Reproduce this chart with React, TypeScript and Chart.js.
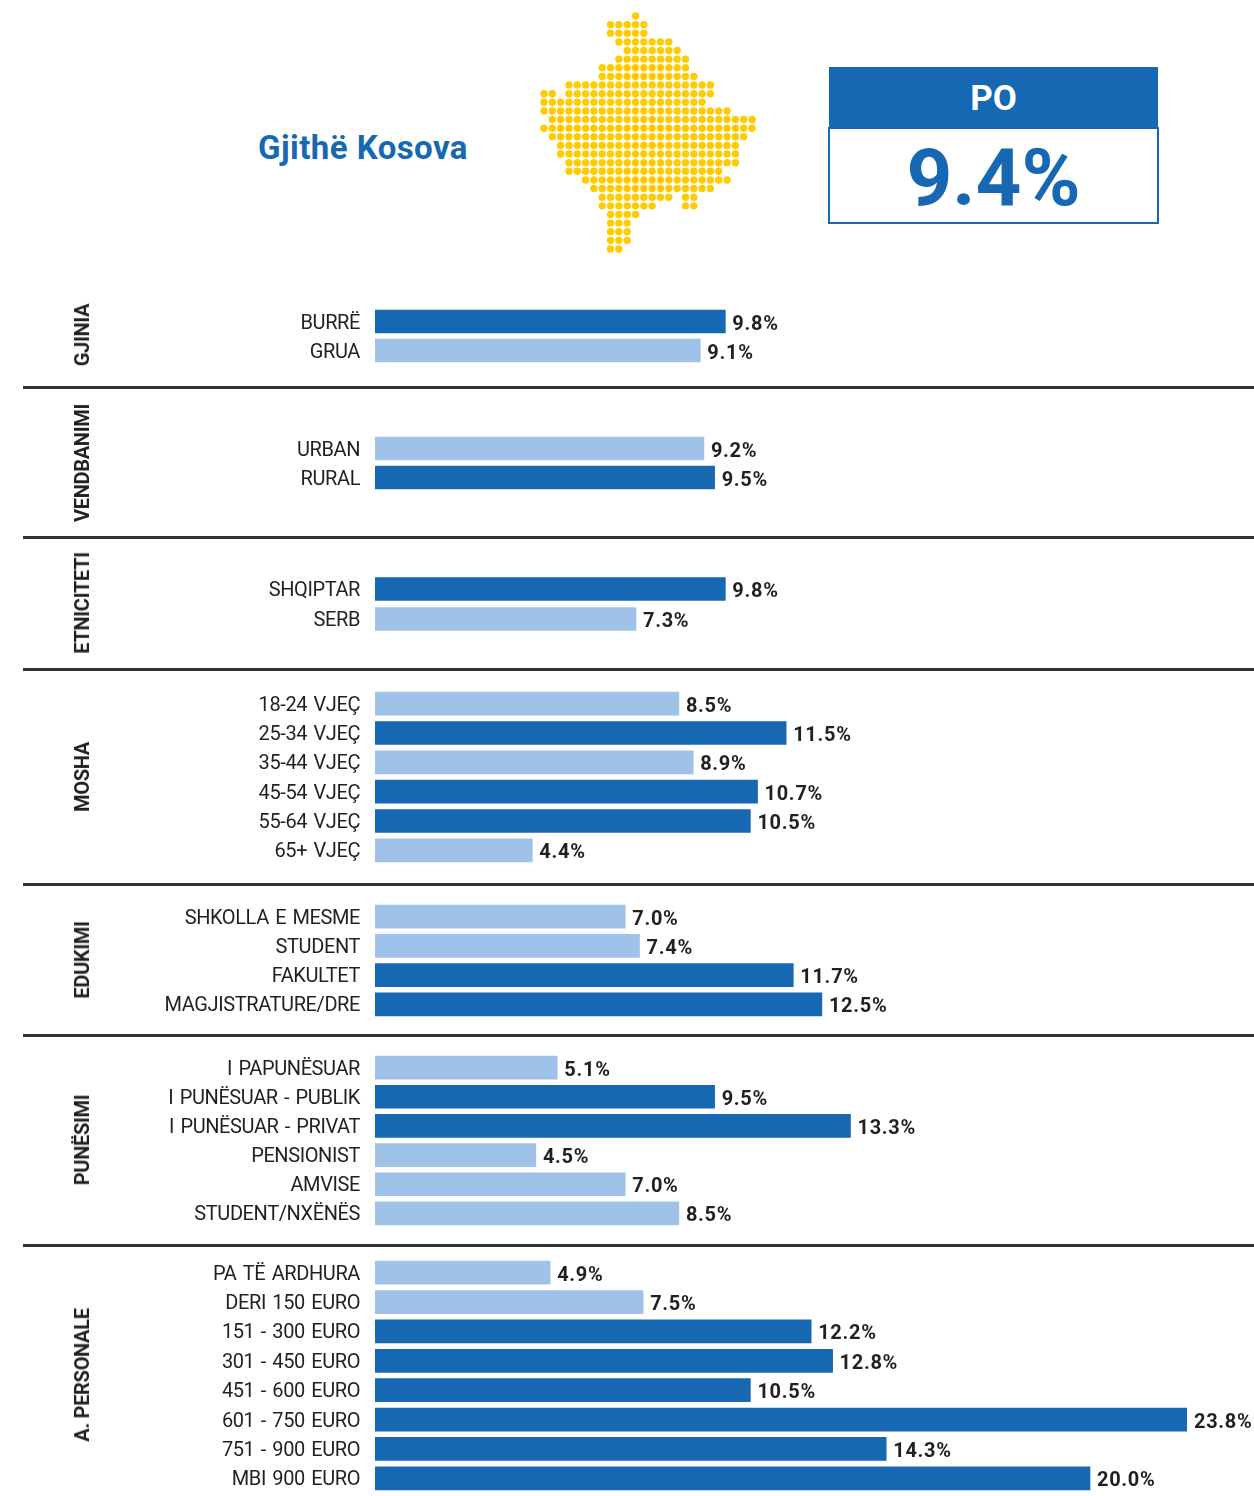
import React, { useEffect, useRef } from "react";
import { Chart, registerables } from "chart.js";

Chart.register(...registerables);

const OVERALL = 9.4;

const genderLabels = ["BURRË", "GRUA"];
const genderValues = [9.8, 9.1];
const settlementLabels = ["URBAN", "RURAL"];
const settlementValues = [9.2, 9.5];
const ethnicityLabels = ["SHQIPTAR", "SERB"];
const ethnicityValues = [9.8, 7.3];
const ageLabels = ["18-24 VJEÇ", "25-34 VJEÇ", "35-44 VJEÇ", "45-54 VJEÇ", "55-64 VJEÇ", "65+ VJEÇ"];
const ageValues = [8.5, 11.5, 8.9, 10.7, 10.5, 4.4];
const educationLabels = ["SHKOLLA E MESME", "STUDENT", "FAKULTET", "MAGJISTRATURE/DRE"];
const educationValues = [7.0, 7.4, 11.7, 12.5];
const employmentLabels = ["I PAPUNËSUAR", "I PUNËSUAR - PUBLIK", "I PUNËSUAR - PRIVAT", "PENSIONIST", "AMVISE", "STUDENT/NXËNËS"];
const employmentValues = [5.1, 9.5, 13.3, 4.5, 7.0, 8.5];
const incomeLabels = ["PA TË ARDHURA", "DERI 150 EURO", "151 - 300 EURO", "301 - 450 EURO", "451 - 600 EURO", "601 - 750 EURO", "751 - 900 EURO", "MBI 900 EURO"];
const incomeValues = [4.9, 7.5, 12.2, 12.8, 10.5, 23.8, 14.3, 20.0];

// Kosovo dot map: for each row, the runs of dot columns [first, last]
const mapRows: number[][][] = [
  [[11, 11]],
  [[8, 12]],
  [[8, 12]],
  [[9, 15]],
  [[10, 16]],
  [[9, 17]],
  [[7, 17]],
  [[7, 18]],
  [[3, 20]],
  [[0, 1], [3, 20]],
  [[0, 19]],
  [[0, 22]],
  [[1, 25]],
  [[0, 25]],
  [[1, 24]],
  [[2, 23]],
  [[2, 23]],
  [[3, 23]],
  [[3, 21]],
  [[5, 22]],
  [[6, 20]],
  [[7, 15], [17, 18]],
  [[7, 13], [17, 18]],
  [[8, 11]],
  [[8, 10]],
  [[8, 10]],
  [[8, 10]],
  [[8, 9]],
];

const DARK = "#1668B3";
const LIGHT = "#9FC3E8";
const YELLOW = "#FFCB05";
const INK = "#231F20";
const FONT = "Roboto, sans-serif";

const groups = [
  { title: "GJINIA", labels: genderLabels, values: genderValues, first: 321.5, last: 350.5, titleY: 335 },
  { title: "VENDBANIMI", labels: settlementLabels, values: settlementValues, first: 448.5, last: 477.5, titleY: 462.5 },
  { title: "ETNICITETI", labels: ethnicityLabels, values: ethnicityValues, first: 588.5, last: 618.5, titleY: 603 },
  { title: "MOSHA", labels: ageLabels, values: ageValues, first: 703.5, last: 850.5, titleY: 776.5 },
  { title: "EDUKIMI", labels: educationLabels, values: educationValues, first: 916.5, last: 1004.5, titleY: 959.5 },
  { title: "PUNËSIMI", labels: employmentLabels, values: employmentValues, first: 1067.5, last: 1213.5, titleY: 1140 },
  { title: "A. PERSONALE", labels: incomeLabels, values: incomeValues, first: 1272.5, last: 1478.5, titleY: 1375 },
];
const ruleYs = [387, 537, 669, 884, 1035, 1245];

const AREA_LEFT = 375;
const AREA_RIGHT = 1187;
const X_MAX = (AREA_RIGHT - AREA_LEFT) / 35.75;
const TICK_SHIFT = 2;

const shiftedItems = new WeakSet<object>();

const tickSpacing = {
  id: "tickSpacing",
  beforeDraw(chart: any) {
    chart.ctx.letterSpacing = "-0.4px";
    chart.ctx.wordSpacing = "1.8px";
    const items = chart.scales.y.getLabelItems();
    if (!shiftedItems.has(items)) {
      shiftedItems.add(items);
      items.forEach((item: any) => {
        item.options.translation = [item.options.translation[0], item.options.translation[1] + TICK_SHIFT];
      });
    }
  },
};

const valueLabels = {
  id: "valueLabels",
  afterDatasetsDraw(chart: any) {
    const { ctx, chartArea } = chart;
    const meta = chart.getDatasetMeta(0);
    const values = chart.data.datasets[0].data as number[];
    ctx.save();
    ctx.letterSpacing = "0.7px";
    ctx.wordSpacing = "0px";
    ctx.font = `700 20px ${FONT}`;
    ctx.fillStyle = INK;
    ctx.textAlign = "left";
    ctx.textBaseline = "middle";
    meta.data.forEach((bar: any, i: number) => {
      const x = Math.min(bar.x, chartArea.right) + 7;
      ctx.fillText(`${values[i].toFixed(1)}%`, x, bar.y + 3);
    });
    ctx.restore();
  },
};

function GroupChart({ labels, values, top, height }: { labels: string[]; values: number[]; top: number; height: number }) {
  const ref = useRef<HTMLCanvasElement>(null);
  useEffect(() => {
    const chart = new Chart(ref.current!, {
      type: "bar",
      data: {
        labels,
        datasets: [
          {
            data: values,
            backgroundColor: values.map((v) => (v > OVERALL ? DARK : LIGHT)),
            barThickness: 23,
            clip: 0,
          } as any,
        ],
      },
      options: {
        indexAxis: "y",
        animation: false,
        responsive: false,
        layout: { autoPadding: false, padding: { right: 1254 - AREA_RIGHT } },
        plugins: { legend: { display: false }, tooltip: { enabled: false } },
        scales: {
          x: { display: false, min: 0, max: X_MAX },
          y: {
            afterFit: (s: any) => {
              s.width = AREA_LEFT;
              s.paddingTop = 0;
              s.paddingBottom = 0;
              s._margins.top = 0;
              s._margins.bottom = 0;
            },
            grid: { display: false, drawTicks: false },
            border: { display: false },
            ticks: {
              autoSkip: false,
              padding: 15,
              color: INK,
              font: { family: "Roboto", size: 20, weight: 400 },
            },
          },
        },
      },
      plugins: [tickSpacing, valueLabels],
    });
    return () => chart.destroy();
  }, []);
  return <canvas ref={ref} width={1254} height={height} style={{ position: "absolute", left: 0, top, display: "block" }} />;
}

function MapChart() {
  const ref = useRef<HTMLCanvasElement>(null);
  useEffect(() => {
    const points: { x: number; y: number }[] = [];
    mapRows.forEach((runs, row) =>
      runs.forEach(([a, b]) => {
        for (let c = a; c <= b; c++) points.push({ x: c, y: row });
      })
    );
    const chart = new Chart(ref.current!, {
      type: "scatter",
      data: {
        datasets: [{ data: points, pointRadius: 3.7, pointBackgroundColor: YELLOW, pointBorderWidth: 0 }],
      },
      options: {
        animation: false,
        responsive: false,
        layout: { autoPadding: false },
        plugins: { legend: { display: false }, tooltip: { enabled: false } },
        scales: {
          x: { display: false, min: -0.72, max: 25.72 },
          y: { display: false, min: -0.7, max: 27.7, reverse: true },
        },
      },
    });
    return () => chart.destroy();
  }, []);
  return <canvas ref={ref} width={220} height={245} style={{ position: "absolute", left: 538, top: 10, display: "block" }} />;
}

const abs = (o: React.CSSProperties): React.CSSProperties => ({ position: "absolute", whiteSpace: "nowrap", fontFamily: FONT, ...o });

export default function App() {
  return (
    <div style={{ position: "absolute", left: 0, top: 0, width: 1254, height: 1496, background: "#fff", overflow: "hidden" }}>
      <div style={abs({ left: 258, top: 126, lineHeight: "44px", fontSize: 33, fontWeight: 700, letterSpacing: "0.45px", color: DARK })}>Gjithë Kosova</div>
      <MapChart />
      <div style={abs({ left: 829, top: 67, width: 329, height: 62, background: DARK, color: "#fff", fontSize: 35, fontWeight: 700, lineHeight: "64px", textAlign: "center" })}>PO</div>
      <div style={abs({ left: 828, top: 127, width: 331, height: 97, boxSizing: "border-box", border: `2px solid ${DARK}` })} />
      <div style={abs({ left: 829, top: 129, width: 329, height: 95, color: DARK, fontSize: 80, fontWeight: 700, lineHeight: "98px", textAlign: "center" })}>9.4%</div>

      {groups.map((g) => {
        const n = g.labels.length;
        const step = (g.last - g.first) / (n - 1);
        const top = Math.round(g.first - step / 2);
        const height = Math.round(step * n);
        return (
          <React.Fragment key={g.title}>
            <GroupChart labels={g.labels} values={g.values} top={top} height={height} />
            <div
              style={abs({
                left: 82,
                top: g.titleY,
                transform: "translate(-50%, -50%) rotate(-90deg)",
                fontSize: 20,
                fontWeight: 700,
                letterSpacing: "-0.3px",
                color: INK,
                lineHeight: "24px",
              })}
            >
              {g.title}
            </div>
          </React.Fragment>
        );
      })}

      {ruleYs.map((y) => (
        <div key={y} style={{ position: "absolute", left: 23, top: y - 1, width: 1231, height: 3, background: "#333" }} />
      ))}
    </div>
  );
}
